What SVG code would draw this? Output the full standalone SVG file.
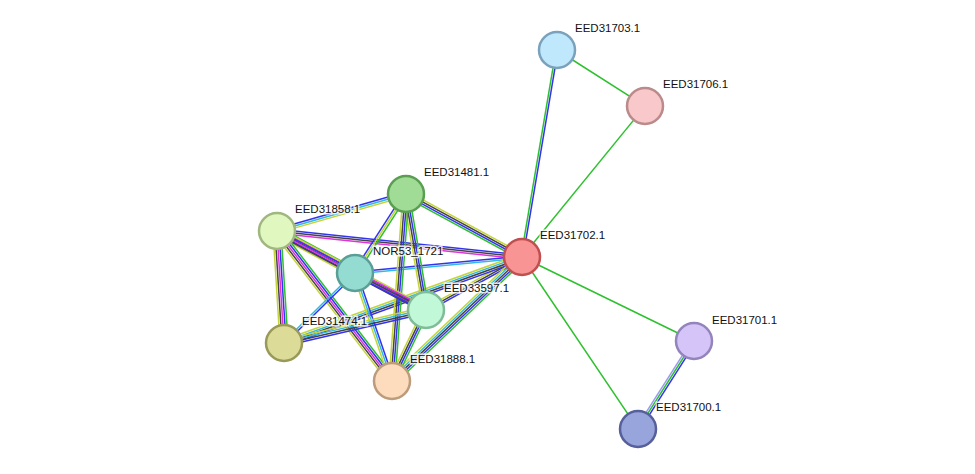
<svg xmlns="http://www.w3.org/2000/svg" width="975" height="474" viewBox="0 0 975 474">
<style>
line{stroke-width:1.5;fill:none}
.g{stroke:#2ec02e}.b{stroke:#3333ee}.k{stroke:#444}.y{stroke:#c4d43a}.c{stroke:#33bbdd}.m{stroke:#dd33dd}.l{stroke:#9999ee}
circle{stroke-width:2.5}
text{font-family:"Liberation Sans",Arial,sans-serif;font-size:11.5px;fill:#111;stroke:#fff;stroke-width:3;paint-order:stroke;stroke-opacity:.8}
</style>
<rect width="975" height="474" fill="#fff"/>
<g id="edges">
<g transform="translate(522,257) rotate(-80.4)"><line class="g" x2="210" y1="-1" y2="-1"/><line class="b" x2="210" y1="1" y2="1"/></g>
<g transform="translate(522,257) rotate(-50.8)"><line class="g" x2="195"/></g>
<g transform="translate(557,50) rotate(32.5)"><line class="g" x2="104"/></g>
<g transform="translate(522,257) rotate(26)"><line class="g" x2="191"/></g>
<g transform="translate(522,257) rotate(56)"><line class="g" x2="207"/></g>
<g transform="translate(694,341) rotate(122.5)"><line class="b" x2="104" y1="-2" y2="-2"/><line class="g" x2="104"/><line class="l" x2="104" y1="2" y2="2"/></g>

<g transform="translate(522,257) rotate(-151.5)"><line class="g" x2="132" y1="-3" y2="-3"/><line class="b" x2="132" y1="-1" y2="-1"/><line class="k" x2="132" y1="1" y2="1"/><line class="y" x2="132" y1="3" y2="3"/></g>
<g transform="translate(522,257) rotate(-174)"><line class="m" x2="246" y1="-2" y2="-2"/><line class="k" x2="246"/><line class="b" x2="246" y1="2" y2="2"/></g>
<g transform="translate(522,257) rotate(174.5)"><line class="c" x2="168" y1="-1" y2="-1"/><line class="b" x2="168" y1="1" y2="1"/></g>
<g transform="translate(522,257) rotate(151.1)"><line class="b" x2="110" y1="-2" y2="-2"/><line class="k" x2="110"/><line class="y" x2="110" y1="2" y2="2"/></g>
<g transform="translate(522,257) rotate(160.1)"><line class="b" x2="253" y1="-3" y2="-3"/><line class="k" x2="253" y1="-1" y2="-1"/><line class="c" x2="253" y1="1" y2="1"/><line class="y" x2="253" y1="3" y2="3"/></g>
<g transform="translate(522,257) rotate(136.4)"><line class="g" x2="180" y1="-4" y2="-4"/><line class="b" x2="180" y1="-2" y2="-2"/><line class="k" x2="180"/><line class="c" x2="180" y1="2" y2="2"/><line class="y" x2="180" y1="4" y2="4"/></g>
<g transform="translate(406,194) rotate(164)"><line class="y" x2="134" y1="-2" y2="-2"/><line class="c" x2="134"/><line class="b" x2="134" y1="2" y2="2"/></g>
<g transform="translate(406,194) rotate(122.8)"><line class="g" x2="94" y1="-2" y2="-2"/><line class="y" x2="94"/><line class="b" x2="94" y1="2" y2="2"/></g>
<g transform="translate(406,194) rotate(80.2)"><line class="g" x2="118" y1="-3" y2="-3"/><line class="b" x2="118" y1="-1" y2="-1"/><line class="k" x2="118" y1="1" y2="1"/><line class="y" x2="118" y1="3" y2="3"/></g>
<g transform="translate(406,194) rotate(94.3)"><line class="g" x2="188" y1="-3" y2="-3"/><line class="b" x2="188" y1="-1" y2="-1"/><line class="k" x2="188" y1="1" y2="1"/><line class="y" x2="188" y1="3" y2="3"/></g>
<g transform="translate(277,231) rotate(28.3)"><line class="g" x2="89" y1="-4" y2="-4"/><line class="m" x2="89" y1="-2" y2="-2"/><line class="k" x2="89"/><line class="b" x2="89" y1="2" y2="2"/><line class="y" x2="89" y1="4" y2="4"/></g>
<g transform="translate(277,231) rotate(27.9)"><line class="y" x2="169" y1="-3" y2="-3"/><line class="b" x2="169" y1="-1" y2="-1"/><line class="m" x2="169" y1="1" y2="1"/><line class="k" x2="169" y1="3" y2="3"/></g>
<g transform="translate(277,231) rotate(86.4)"><line class="g" x2="112" y1="-4" y2="-4"/><line class="b" x2="112" y1="-2" y2="-2"/><line class="m" x2="112"/><line class="k" x2="112" y1="2" y2="2"/><line class="y" x2="112" y1="4" y2="4"/></g>
<g transform="translate(277,231) rotate(52.5)"><line class="g" x2="189" y1="-4" y2="-4"/><line class="b" x2="189" y1="-2" y2="-2"/><line class="m" x2="189"/><line class="k" x2="189" y1="2" y2="2"/><line class="y" x2="189" y1="4" y2="4"/></g>
<g transform="translate(355,273) rotate(27.5)"><line class="m" x2="80" y1="-2" y2="-2"/><line class="k" x2="80"/><line class="b" x2="80" y1="2" y2="2"/></g>
<g transform="translate(355,273) rotate(135.4)"><line class="b" x2="100" y1="-1" y2="-1"/><line class="c" x2="100" y1="1" y2="1"/></g>
<g transform="translate(355,273) rotate(71.1)"><line class="b" x2="114" y1="-2" y2="-2"/><line class="c" x2="114"/><line class="y" x2="114" y1="2" y2="2"/></g>
<g transform="translate(426,310) rotate(166.9)"><line class="b" x2="146" y1="-3" y2="-3"/><line class="k" x2="146" y1="-1" y2="-1"/><line class="c" x2="146" y1="1" y2="1"/><line class="y" x2="146" y1="3" y2="3"/></g>
<g transform="translate(426,310) rotate(115.6)"><line class="g" x2="79" y1="-3" y2="-3"/><line class="b" x2="79" y1="-1" y2="-1"/><line class="k" x2="79" y1="1" y2="1"/><line class="y" x2="79" y1="3" y2="3"/></g>
</g>
<g id="n31703"><circle cx="557" cy="50" r="18" fill="#c0e8fc" stroke="#7aa2bc"/><text x="575" y="32">EED31703.1</text></g>
<g id="n31706"><circle cx="645" cy="106" r="18" fill="#f8c8ca" stroke="#bb8a8a"/><text x="663" y="88">EED31706.1</text></g>
<g id="n31702"><circle cx="522" cy="257" r="18" fill="#f89494" stroke="#c05050"/><text x="540" y="239">EED31702.1</text></g>
<g id="n31481"><circle cx="406" cy="194" r="18" fill="#a0dc96" stroke="#5a9e52"/><text x="424" y="176">EED31481.1</text></g>
<g id="n31858"><circle cx="277" cy="231" r="18" fill="#e0f8c0" stroke="#a0b880"/><text x="295" y="213">EED31858.1</text></g>
<g id="nNOR"><circle cx="355" cy="273" r="18" fill="#94dcd2" stroke="#5a9e96"/><text x="373" y="255">NOR53_1721</text></g>
<g id="n33597"><circle cx="426" cy="310" r="18" fill="#c0f8d8" stroke="#80bc98"/><text x="444" y="292">EED33597.1</text></g>
<g id="n31474"><circle cx="284" cy="343" r="18" fill="#dcdc98" stroke="#9a9a58"/><text x="302" y="325">EED31474.1</text></g>
<g id="n31888"><circle cx="392" cy="381" r="18" fill="#fcdcbc" stroke="#bc9c7c"/><text x="410" y="363">EED31888.1</text></g>
<g id="n31701"><circle cx="694" cy="341" r="18" fill="#d4c4f8" stroke="#9484bc"/><text x="712" y="324">EED31701.1</text></g>
<g id="n31700"><circle cx="638" cy="429" r="18" fill="#98a4dc" stroke="#56609a"/><text x="656" y="411">EED31700.1</text></g>
</svg>
